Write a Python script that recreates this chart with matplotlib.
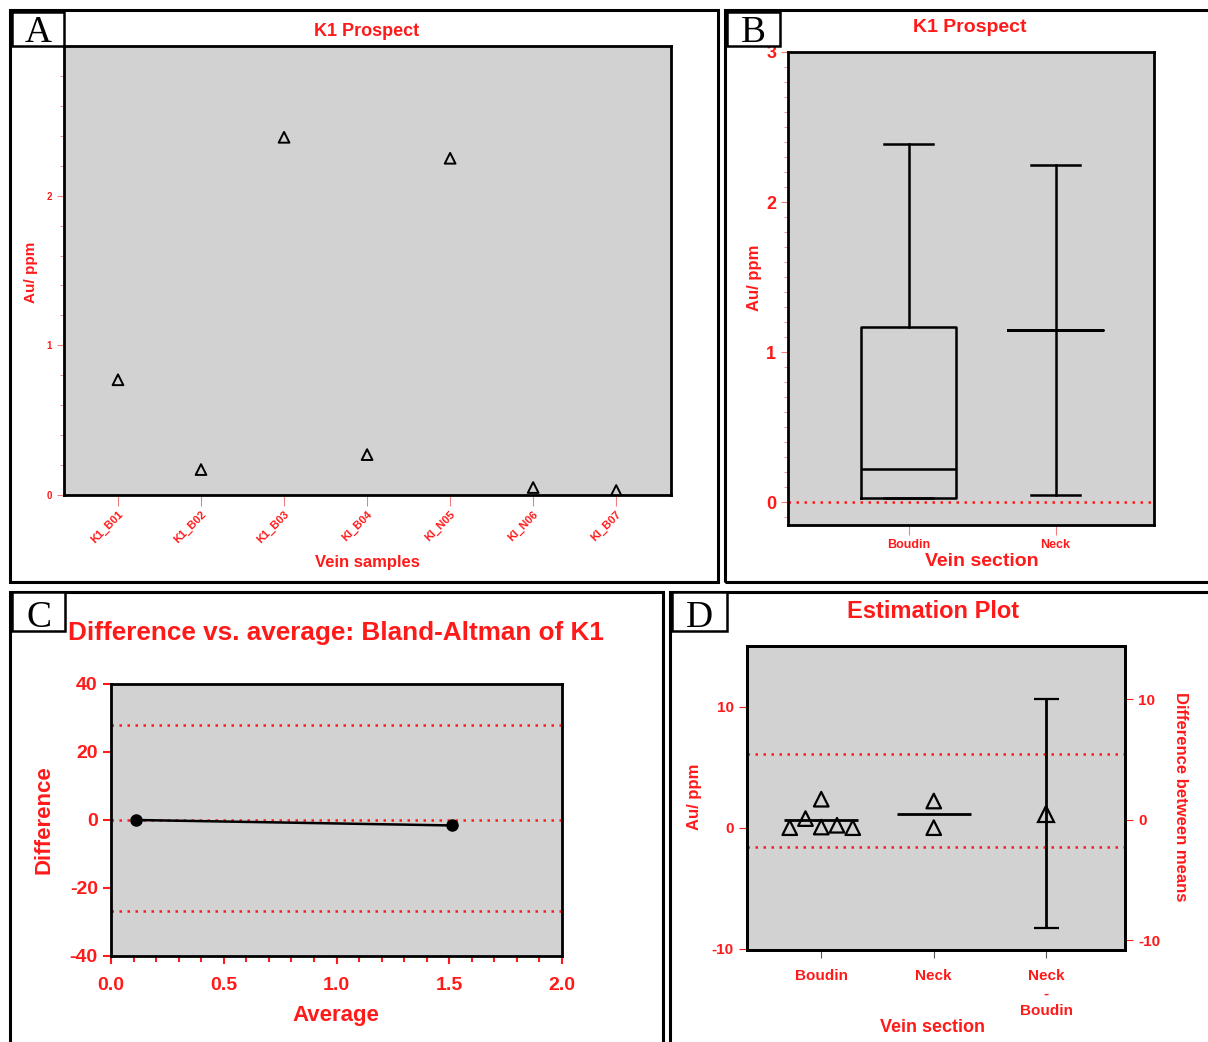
import numpy as np
import matplotlib.pyplot as plt
from matplotlib.patches import Rectangle
from matplotlib.ticker import MultipleLocator

W, H = 1208, 1042
RED = '#ff1a1a'
GREY = '#d2d2d2'
plt.rcParams['font.family'] = ['Liberation Sans', 'DejaVu Sans']
plt.rcParams['font.weight'] = 'bold'
plt.rcParams['axes.unicode_minus'] = False

# ---- panel A data
samples = ['K1_B01', 'K1_B02', 'K1_B03', 'KI_B04', 'KI_N05', 'KI_N06', 'KI_B07']
au_ppm = [0.77, 0.17, 2.39, 0.27, 2.25, 0.05, 0.03]

# ---- panel B data (box statistics)
sections = ['Boudin', 'Neck']
b_whislo = [0.03, 0.05]
b_q1 = [0.03, 1.15]
b_med = [0.22, 1.15]
b_q3 = [1.17, 1.15]
b_whishi = [2.39, 2.25]

# ---- panel C data (Bland-Altman)
ba_avg = [0.11, 1.51]
ba_diff = [0.0, -1.6]
ba_lines = [28.0, 0.0, -26.8]

# ---- panel D data (estimation plot)
d_cats = ['Boudin', 'Neck', 'Neck\n-\nBoudin']
boudin_off = [-0.28, -0.14, 0.0, 0.0, 0.14, 0.28]
boudin_vals = [0.0, 0.75, 2.35, 0.05, 0.2, 0.0]
neck_vals = [2.2, 0.0]
group_means = [0.6, 1.13]
diff_mean = 0.5
diff_ci = [-9.0, 10.0]
d_lines = [6.1, -1.6]


def box(x0, y0, x1, y1):
    return [x0 / W, 1 - y1 / H, (x1 - x0) / W, (y1 - y0) / H]


def ftext(x, y, s, **kw):
    fig.text(x / W, 1 - y / H, s, ha='center', va='center', color=RED,
             fontweight='bold', **kw)


def frame(x0, y0, x1, y1, lw=2.2, face='none', z=0):
    fig.add_artist(Rectangle((x0 / W, 1 - y1 / H), (x1 - x0) / W, (y1 - y0) / H,
                             transform=fig.transFigure, fill=face != 'none',
                             facecolor=face, edgecolor='black', lw=lw, zorder=z))


def letter(x0, y0, x1, y1, s):
    frame(x0, y0, x1, y1, lw=1.8, face='white', z=5)
    fig.text((x0 + x1) / 2 / W, 1 - (y1 - 4) / H, s, ha='center', va='baseline',
             fontsize=27, family=['Liberation Serif', 'DejaVu Serif'],
             fontweight='normal', zorder=6)


def style(ax):
    ax.set_facecolor(GREY)
    for sp in ax.spines.values():
        sp.set_linewidth(2)
        sp.set_color('black')


fig = plt.figure(figsize=(W / 100, H / 100), dpi=100)

# panel borders
frame(10, 10, 718, 582)
frame(725, 10, 1212, 582)
frame(10, 592, 663, 1046)
frame(670, 592, 1212, 1046)

# ---------------- A
axA = fig.add_axes(box(64, 46, 671, 495))
style(axA)
xa = np.arange(len(samples))
axA.scatter(xa, au_ppm, marker='^', s=60, facecolors='none', edgecolors='black',
            linewidths=1.4, zorder=3)
axA.set_xlim(-0.65, 6.66)
axA.set_ylim(0, 3)
axA.set_xticks(xa)
axA.set_xticklabels(samples, rotation=45, ha='right', va='top', rotation_mode='anchor',
                    fontsize=8, color=RED)
axA.set_yticks([0, 1, 2])
axA.yaxis.set_minor_locator(MultipleLocator(0.2))
axA.tick_params(axis='y', labelsize=7, colors='#f08080', length=5)
axA.tick_params(axis='y', which='minor', length=3, colors='#f08080')
axA.tick_params(axis='x', colors='#f08080', length=8, pad=2)
for t in axA.get_xticklabels() + axA.get_yticklabels():
    t.set_color(RED)
ftext(367, 31, 'K1 Prospect', fontsize=13)
ftext(367, 562, 'Vein samples', fontsize=12)
ftext(31, 272, 'Au/ ppm', fontsize=11, rotation=90)
letter(12, 12, 64, 46, 'A')

# ---------------- B
axB = fig.add_axes(box(788, 52, 1154, 525))
style(axB)
stats = []
for i, name in enumerate(sections):
    stats.append(dict(label=name, whislo=b_whislo[i], q1=b_q1[i], med=b_med[i],
                      q3=b_q3[i], whishi=b_whishi[i], fliers=[]))
lp = dict(color='black', linewidth=1.8)
axB.bxp(stats, positions=[0, 1], widths=0.65, capwidths=0.33, showfliers=False,
        boxprops=lp, whiskerprops=lp, capprops=lp, medianprops=lp, zorder=3)
axB.axhline(0, color=RED, linestyle=(0, (1, 2.2)), lw=1.8, zorder=2)
axB.set_xlim(-0.82, 1.67)
axB.set_ylim(-0.15, 3.0)
axB.set_yticks([0, 1, 2, 3])
axB.yaxis.set_minor_locator(MultipleLocator(0.1))
axB.set_xticks([0, 1])
axB.set_xticklabels(sections, fontsize=9, color=RED)
axB.tick_params(axis='y', labelsize=13, colors='#f08080', length=5)
axB.tick_params(axis='y', which='minor', length=3, colors='#f08080')
axB.tick_params(axis='x', colors='#f08080', length=7, pad=3)
for t in axB.get_xticklabels() + axB.get_yticklabels():
    t.set_color(RED)
ftext(970, 27, 'K1 Prospect', fontsize=14)
ftext(982, 562, 'Vein section', fontsize=14)
ftext(755, 278, 'Au/ ppm', fontsize=12, rotation=90)
letter(727, 12, 780, 46, 'B')

# ---------------- C
axC = fig.add_axes(box(111, 684, 562, 956))
style(axC)
for v in ba_lines:
    axC.axhline(v, color=RED, linestyle=(0, (1, 2.2)), lw=1.8, zorder=2)
axC.plot(ba_avg, ba_diff, color='black', lw=1.8, marker='o', ms=8, zorder=3)
axC.set_xlim(0, 2)
axC.set_ylim(-40, 40)
axC.set_xticks([0, 0.5, 1.0, 1.5, 2.0])
axC.set_xticklabels(['0.0', '0.5', '1.0', '1.5', '2.0'])
axC.xaxis.set_minor_locator(MultipleLocator(0.1))
axC.set_yticks([-40, -20, 0, 20, 40])
axC.tick_params(labelsize=14, colors=RED, length=6, width=1.5)
axC.tick_params(axis='x', pad=9)
axC.tick_params(which='minor', length=4, width=1.5, colors=RED)
for t in axC.get_xticklabels() + axC.get_yticklabels():
    t.set_color(RED)
ftext(336, 633, 'Difference vs. average: Bland-Altman of K1', fontsize=18.8)
ftext(336, 1015, 'Average', fontsize=16)
ftext(44, 820, 'Difference', fontsize=16, rotation=90)
letter(12, 592, 65, 631, 'C')

# ---------------- D
axD = fig.add_axes(box(747, 646, 1125, 950))
style(axD)
for v in d_lines:
    axD.axhline(v, color=RED, linestyle=(0, (1, 2.2)), lw=1.8, zorder=2)
axD.scatter(np.array(boudin_off), boudin_vals, marker='^', s=110, facecolors='none',
            edgecolors='black', linewidths=1.6, zorder=3)
axD.scatter([1] * len(neck_vals), neck_vals, marker='^', s=110, facecolors='none',
            edgecolors='black', linewidths=1.6, zorder=3)
for i, m in enumerate(group_means):
    axD.hlines(m, i - 0.33, i + 0.33, color='black', lw=2, zorder=4)
axD.set_xlim(-0.66, 2.70)
axD.set_ylim(-10.1, 15)
axD.set_yticks([-10, 0, 10])
axD.set_xticks([0, 1, 2])
axD.set_xticklabels(d_cats, fontsize=11, color=RED, linespacing=1.3)
axD.tick_params(axis='y', labelsize=11, colors=RED, length=6)
axD.tick_params(axis='x', colors='#555555', length=6, pad=8)
for t in axD.get_xticklabels() + axD.get_yticklabels():
    t.set_color(RED)

axR = axD.twinx()
axR.set_ylim(-10.8, 14.4)
axR.errorbar([2], [diff_mean], yerr=[[diff_mean - diff_ci[0]], [diff_ci[1] - diff_mean]],
             fmt='^', ms=11, mfc='none', mec='black', mew=1.6, color='black',
             elinewidth=2, capsize=9, capthick=2, zorder=4)
axR.set_yticks([-10, 0, 10])
axR.tick_params(axis='y', labelsize=11, colors=RED, length=6)
for t in axR.get_yticklabels():
    t.set_color(RED)
for sp in axR.spines.values():
    sp.set_linewidth(2)

ftext(933, 611, 'Estimation Plot', fontsize=17)
ftext(933, 1028, 'Vein section', fontsize=13)
ftext(695, 797, 'Au/ ppm', fontsize=12, rotation=90)
ftext(1181, 797, 'Difference between means', fontsize=12, rotation=-90)
letter(672, 592, 727, 631, 'D')

fig.savefig('out.png', dpi=100, facecolor='white')
